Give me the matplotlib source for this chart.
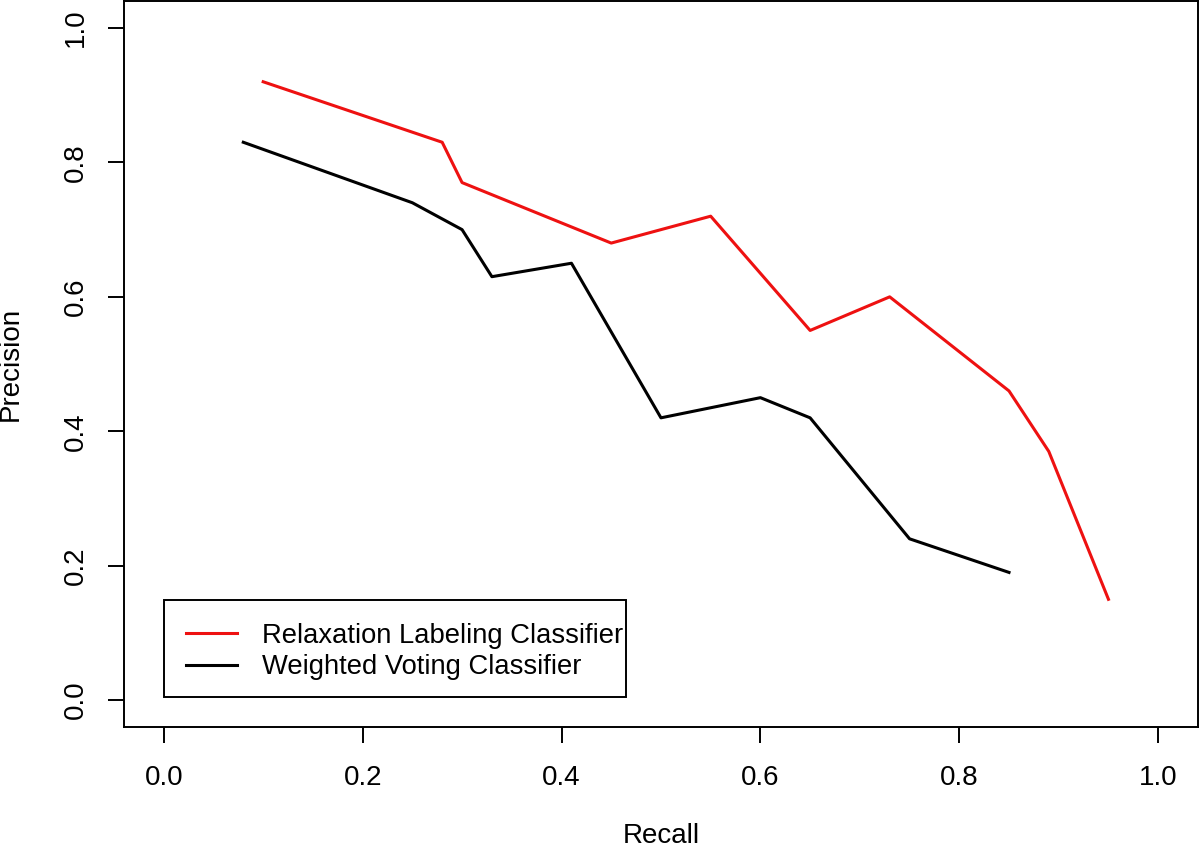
import matplotlib
matplotlib.use("Agg")
import matplotlib.pyplot as plt
from matplotlib.patches import Rectangle

# ==== Data ====
relax_recall = [0.10, 0.28, 0.30, 0.45, 0.55, 0.65, 0.73, 0.85, 0.89, 0.95]
relax_precision = [0.92, 0.83, 0.77, 0.68, 0.72, 0.55, 0.60, 0.46, 0.37, 0.15]

vote_recall = [0.08, 0.25, 0.30, 0.33, 0.41, 0.50, 0.60, 0.65, 0.75, 0.85]
vote_precision = [0.83, 0.74, 0.70, 0.63, 0.65, 0.42, 0.45, 0.42, 0.24, 0.19]

ticks = [0.0, 0.2, 0.4, 0.6, 0.8, 1.0]
tick_labels = ["0.0", "0.2", "0.4", "0.6", "0.8", "1.0"]

plt.rcParams["font.family"] = ["Liberation Sans", "DejaVu Sans"]

fig = plt.figure(figsize=(12, 8.52), dpi=100)
ax = fig.add_axes([0.1033, 0.1467, 0.895, 0.852])

ax.plot(relax_recall, relax_precision, color="#ee1111", lw=2.2,
        label="Relaxation Labeling Classifier")
ax.plot(vote_recall, vote_precision, color="black", lw=2.2,
        label="Weighted Voting Classifier")

ax.set_xlim(-0.04, 1.04)
ax.set_ylim(-0.04, 1.04)
ax.set_xticks(ticks)
ax.set_xticklabels(tick_labels)
ax.set_yticks(ticks)
ax.set_yticklabels(tick_labels, rotation=90, va="center")
ax.tick_params(axis="x", length=11.5, width=1.4, labelsize=20, pad=16)
ax.tick_params(axis="y", length=11.5, width=1.4, labelsize=20, pad=14)

for sp in ax.spines.values():
    sp.set_linewidth(1.4)

ax.set_xlabel("Recall", fontsize=20, labelpad=23)
ax.set_ylabel("Precision", fontsize=20, labelpad=28)

# R-style legend: box drawn separately, entries placed inside it
ax.add_patch(Rectangle((0.0, 0.0045), 0.465, 0.1445, fill=False,
                       edgecolor="black", lw=1.4, zorder=3))
leg = ax.legend(loc="upper left", bbox_to_anchor=(0.0, 0.149),
                bbox_transform=ax.transData, fontsize=19.7, frameon=False,
                borderaxespad=0, handlelength=1.85, handletextpad=0.9,
                borderpad=0.83, labelspacing=0.2)

fig.savefig("out.png", dpi=100)
